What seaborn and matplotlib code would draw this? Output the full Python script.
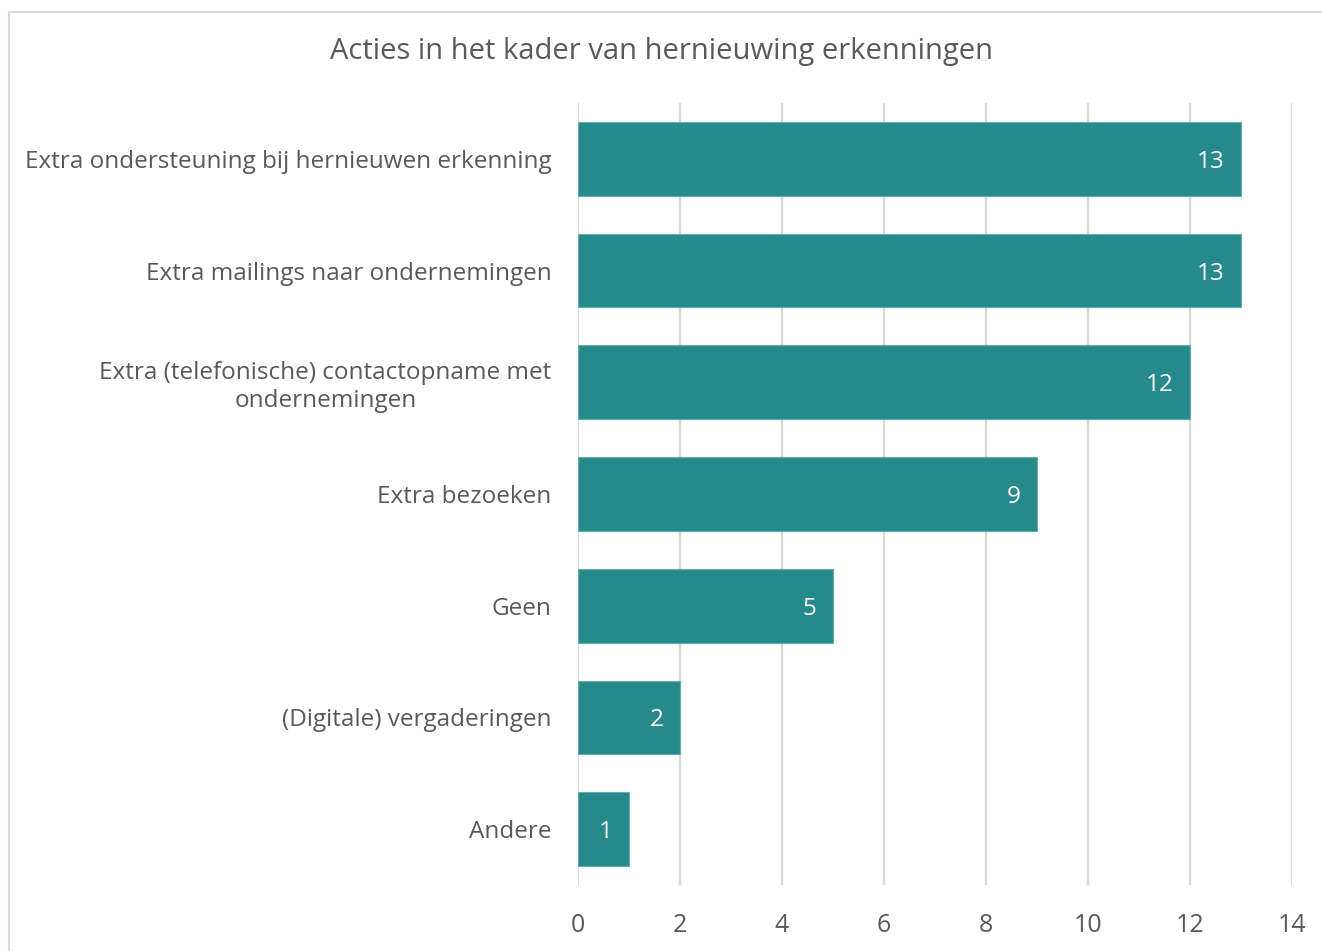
import seaborn as sns
import matplotlib.pyplot as plt
import pandas as pd
from matplotlib.patches import Rectangle

# data
categories = [
    "Extra ondersteuning bij hernieuwen erkenning",
    "Extra mailings naar ondernemingen",
    "Extra (telefonische) contactopname met\nondernemingen",
    "Extra bezoeken",
    "Geen",
    "(Digitale) vergaderingen",
    "Andere",
]
counts = [13, 13, 12, 9, 5, 2, 1]
title = "Acties in het kader van hernieuwing erkenningen"

bar_colour = "#268A8C"
text_colour = "#595959"
grid_colour = "#D9D9D9"

sns.set_style("white")
plt.rcParams['font.family'] = ['Open Sans', 'DejaVu Sans']

df = pd.DataFrame({"actie": categories, "aantal": counts})

fig = plt.figure(figsize=(13.22, 9.51), dpi=100)
ax = fig.add_axes([578 / 1322, 1 - 885 / 951, (1292 - 578) / 1322, (885 - 103) / 951])

# light frame around the chart area
fig.patches.append(Rectangle((9 / 1322, -0.1), 1.2, 1 - 12 / 951 + 0.1,
                             transform=fig.transFigure, fill=False,
                             edgecolor="#D9D9D9", linewidth=1.5, zorder=0))

sns.barplot(data=df, x="aantal", y="actie", color=bar_colour, saturation=1,
            width=0.66, edgecolor="#5FAFB1", linewidth=0.8, ax=ax, zorder=3)

# value labels inside bar ends
for i, v in enumerate(counts):
    ax.annotate(str(v), xy=(v, i), xytext=(-12, 0), textcoords="offset points",
                ha="right", va="center_baseline", color="white", fontsize=17.5, zorder=4)

ax.set_xlim(0, 14)
ax.set_ylim(6.5, -0.5)
ax.set_xticks(range(0, 15, 2))
ax.xaxis.grid(True, color=grid_colour, linewidth=1.6, zorder=0)
ax.yaxis.grid(False)
for s in ax.spines.values():
    s.set_visible(False)

ax.set_xlabel("")
ax.set_ylabel("")
ax.tick_params(axis="x", length=0, pad=20, labelsize=18, labelcolor=text_colour)
ax.tick_params(axis="y", length=0, pad=19, labelsize=17.5, labelcolor=text_colour)
for lab in ax.get_yticklabels():
    lab.set_multialignment("center")
    lab.set_linespacing(1.2)

fig.text(0.5, 1 - 52 / 951, title, ha="center", va="center",
         fontsize=21, color=text_colour)

fig.savefig("out.png", dpi=100)
